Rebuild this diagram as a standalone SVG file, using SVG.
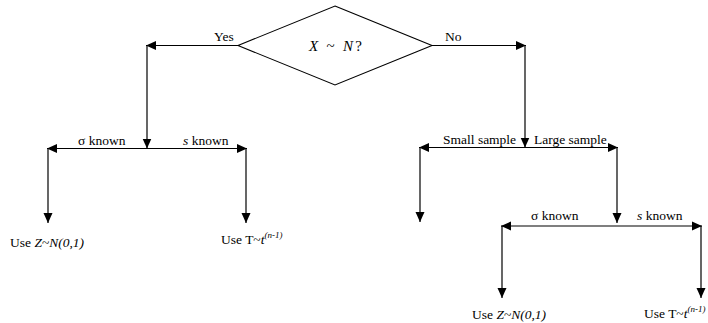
<svg xmlns="http://www.w3.org/2000/svg" width="708" height="323" viewBox="0 0 708 323">
<defs>
<marker id="ah" markerUnits="userSpaceOnUse" markerWidth="11" markerHeight="10" refX="10" refY="5" orient="auto" viewBox="0 0 11 10">
<path d="M0,0.5 L10,5 L0,9.5 z" fill="#000"/>
</marker>
</defs>
<style>
text{font-family:"Liberation Serif","Times New Roman",serif;font-size:13.5px;fill:#000}
.i{font-style:italic}
.sup{font-size:9px;font-style:italic}
.c{fill:none;stroke:#000;stroke-width:1.2;marker-end:url(#ah)}
.n{fill:#fff;stroke:#000;stroke-width:1.1}
</style>
<rect width="708" height="323" fill="#fff"/>
<g id="connectors">
<path class="c" d="M238,45.5 H146"/>
<path class="c" d="M147,45.5 V148.5"/>
<path class="c" d="M432,45.5 H526"/>
<path class="c" d="M525,45.5 V147.5"/>
<path class="c" d="M147,148.5 H47"/>
<path class="c" d="M48,148.5 V223"/>
<path class="c" d="M147,148.5 H247"/>
<path class="c" d="M246,148.5 V223"/>
<path class="c" d="M525,147.5 H419"/>
<path class="c" d="M420,147.5 V222"/>
<path class="c" d="M525,147.5 H618"/>
<path class="c" d="M617,147.5 V223"/>
<path class="c" d="M617,226 H501"/>
<path class="c" d="M502,226 V298"/>
<path class="c" d="M617,226 H702"/>
<path class="c" d="M701,226 V298"/>
</g>
<g id="labels">
<text x="214" y="41">Yes</text>
<text x="445" y="41">No</text>
<text x="78" y="145">σ known</text>
<text x="183" y="145"><tspan class="i">s</tspan> known</text>
<text x="443" y="144">Small sample</text>
<text x="534" y="144">Large sample</text>
<text x="531" y="220">σ known</text>
<text x="637" y="220"><tspan class="i">s</tspan> known</text>
</g>
<g id="decision">
<polygon class="n" points="335,6 432,45.5 335,85 238,45.5"/>
<text x="309" y="51" style="font-size:15px" textLength="53" xml:space="preserve"><tspan class="i">X</tspan> ~ <tspan class="i">N</tspan>?</text>
</g>
<g id="result-z-left">
<text x="10" y="247">Use <tspan class="i">Z</tspan>~<tspan class="i">N(0,1)</tspan></text>
</g>
<g id="result-t-left">
<text x="221" y="244">Use T~<tspan class="i">t</tspan><tspan class="sup" dy="-6">(n-1)</tspan></text>
</g>
<g id="result-z-right">
<text x="472" y="319">Use <tspan class="i">Z</tspan>~<tspan class="i">N(0,1)</tspan></text>
</g>
<g id="result-t-right">
<text x="644" y="318">Use T~<tspan class="i">t</tspan><tspan class="sup" dy="-6">(n-1)</tspan></text>
</g>
</svg>
